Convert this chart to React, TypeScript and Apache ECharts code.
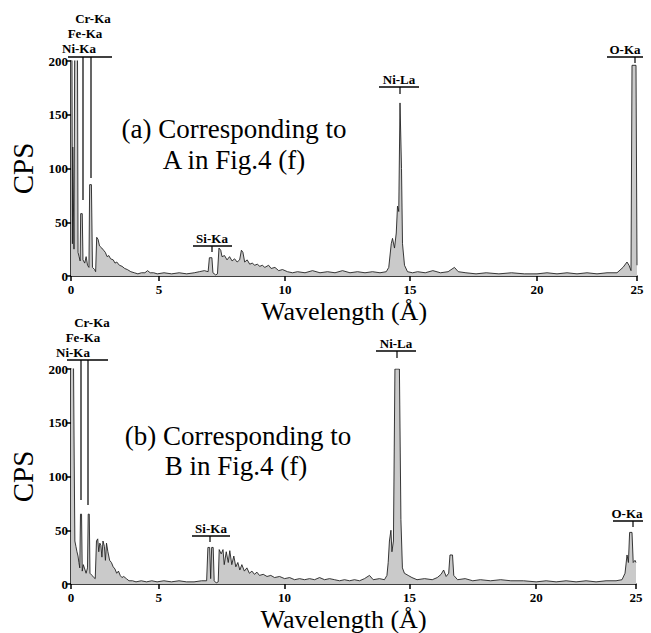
import React, { useEffect, useRef } from "react";
import * as echarts from "echarts";

// Axis: tick values (wavelength, Å) and their pixel offsets along the (non-uniform) printed axis
const X_TICK_VALUES = [0, 5, 10, 15, 20, 25];
const X_TICK_OFFSETS = [0, 88, 214, 339, 466, 566];
const Y_TICKS = [0, 50, 100, 150, 200];

const PEAK_LABELS_A = ["Cr-Ka", "Fe-Ka", "Ni-Ka", "Si-Ka", "Ni-La", "O-Ka"];
const PEAK_LABELS_B = ["Cr-Ka", "Fe-Ka", "Ni-Ka", "Si-Ka", "Ni-La", "O-Ka"];
const TITLE_A = ["(a) Corresponding to", "A in Fig.4 (f)"];
const TITLE_B = ["(b) Corresponding to", "B in Fig.4 (f)"];

// Spectrum (a): [wavelength, CPS]
const SPECTRUM_A: [number, number][] = [
  [0.0, 260], [0.05, 260], [0.08, 30], [0.1, 120], [0.14, 120], [0.17, 25],
  [0.22, 260], [0.36, 260], [0.4, 22], [0.46, 18], [0.52, 14], [0.55, 58],
  [0.64, 58], [0.68, 15], [0.78, 12], [0.86, 18], [0.94, 10], [1.02, 8],
  [1.06, 85], [1.16, 85], [1.22, 8], [1.34, 6], [1.4, 4], [1.46, 36],
  [1.54, 34], [1.62, 28], [1.75, 26], [1.85, 24], [1.95, 22], [2.05, 18],
  [2.15, 19], [2.25, 16], [2.4, 15], [2.5, 12], [2.6, 13], [2.75, 10],
  [2.9, 9], [3.05, 7], [3.2, 6], [3.4, 4], [3.6, 3], [3.8, 2], [4.0, 3],
  [4.2, 3], [4.35, 5], [4.5, 3], [4.7, 3], [4.9, 2], [5.2, 3], [5.5, 2],
  [5.8, 3], [6.1, 2], [6.4, 3], [6.6, 4], [6.8, 5], [6.95, 4], [7.0, 17],
  [7.1, 17], [7.14, 3], [7.25, 1], [7.32, 2], [7.38, 26], [7.45, 24],
  [7.5, 18], [7.6, 19], [7.7, 15], [7.8, 18], [7.9, 14], [8.0, 16], [8.1, 13],
  [8.2, 15], [8.27, 24], [8.33, 22], [8.4, 13], [8.5, 15], [8.6, 11],
  [8.7, 12], [8.8, 10], [8.9, 11], [9.0, 9], [9.1, 10], [9.2, 8], [9.35, 10],
  [9.45, 7], [9.6, 8], [9.75, 5], [9.9, 6], [10.1, 4], [10.3, 3], [10.5, 4],
  [10.8, 3], [11.1, 5], [11.4, 3], [11.7, 4], [12.0, 3], [12.3, 5], [12.6, 3],
  [12.9, 4], [13.2, 3], [13.5, 4], [13.8, 3], [14.05, 4], [14.15, 8],
  [14.25, 30], [14.3, 35], [14.38, 26], [14.45, 40], [14.5, 65], [14.55, 60],
  [14.6, 161], [14.66, 100], [14.7, 30], [14.78, 10], [14.9, 4], [15.1, 3],
  [15.3, 4], [15.6, 3], [15.9, 5], [16.2, 3], [16.5, 4], [16.75, 8],
  [16.9, 4], [17.2, 3], [17.6, 2], [18.0, 3], [18.5, 2], [19.0, 3], [19.5, 2],
  [20.0, 2], [20.5, 3], [21.0, 2], [21.5, 3], [22.0, 2], [22.5, 3], [23.0, 2],
  [23.5, 3], [24.0, 3], [24.3, 8], [24.5, 13], [24.6, 10], [24.7, 5],
  [24.75, 196], [24.95, 196], [25.0, 10],
];

// Spectrum (b): [wavelength, CPS]
const SPECTRUM_B: [number, number][] = [
  [0.0, 260], [0.12, 260], [0.18, 120], [0.22, 40], [0.28, 35], [0.34, 30],
  [0.4, 26], [0.45, 20], [0.5, 15], [0.54, 65], [0.6, 65], [0.64, 12],
  [0.7, 18], [0.78, 14], [0.86, 10], [0.94, 15], [0.98, 65], [1.04, 65],
  [1.08, 10], [1.2, 8], [1.3, 6], [1.38, 5], [1.45, 40], [1.52, 42],
  [1.58, 30], [1.64, 38], [1.7, 36], [1.76, 25], [1.82, 40], [1.9, 35],
  [1.96, 22], [2.02, 38], [2.1, 30], [2.2, 22], [2.3, 20], [2.4, 16],
  [2.5, 14], [2.6, 10], [2.7, 12], [2.8, 8], [2.9, 6], [3.0, 7], [3.15, 5],
  [3.3, 3], [3.5, 3], [3.7, 2], [4.0, 3], [4.3, 2], [4.6, 3], [4.9, 2],
  [5.2, 3], [5.5, 2], [5.8, 3], [6.1, 2], [6.4, 2], [6.7, 3], [6.9, 3],
  [6.95, 34], [7.02, 34], [7.06, 5], [7.1, 34], [7.16, 34], [7.2, 3],
  [7.28, 1], [7.36, 2], [7.4, 32], [7.48, 28], [7.55, 32], [7.6, 18],
  [7.68, 30], [7.76, 20], [7.82, 31], [7.9, 18], [7.98, 26], [8.06, 16],
  [8.14, 20], [8.22, 13], [8.3, 18], [8.4, 12], [8.5, 15], [8.6, 10],
  [8.7, 12], [8.8, 9], [8.9, 11], [9.0, 8], [9.15, 9], [9.3, 7], [9.45, 8],
  [9.6, 6], [9.8, 7], [10.0, 5], [10.2, 6], [10.4, 4], [10.6, 5], [10.8, 4],
  [11.0, 5], [11.2, 4], [11.4, 6], [11.6, 4], [11.8, 5], [12.0, 4], [12.2, 3],
  [12.4, 4], [12.6, 3], [12.8, 4], [13.0, 3], [13.2, 5], [13.4, 8],
  [13.55, 4], [13.8, 5], [14.0, 4], [14.1, 8], [14.15, 20], [14.2, 40],
  [14.26, 50], [14.3, 30], [14.36, 40], [14.42, 200], [14.6, 200],
  [14.66, 60], [14.72, 15], [14.8, 10], [14.95, 8], [15.1, 6], [15.3, 4],
  [15.6, 5], [15.9, 4], [16.1, 6], [16.25, 9], [16.35, 13], [16.45, 7],
  [16.55, 10], [16.6, 27], [16.7, 27], [16.75, 8], [16.9, 4], [17.2, 5],
  [17.5, 3], [17.8, 4], [18.2, 3], [18.6, 4], [19.0, 3], [19.5, 3], [20.0, 2],
  [20.5, 3], [21.0, 2], [21.5, 3], [22.0, 2], [22.5, 3], [23.0, 2], [23.5, 3],
  [24.0, 3], [24.3, 4], [24.45, 10], [24.55, 27], [24.62, 20], [24.68, 48],
  [24.8, 48], [24.86, 20], [24.95, 22], [25.0, 20],
];

// map wavelength onto the printed (piecewise) axis
function warp(l: number): number {
  for (let i = 0; i < X_TICK_VALUES.length - 1; i++) {
    const a = X_TICK_VALUES[i], b = X_TICK_VALUES[i + 1];
    if (l <= b || i === X_TICK_VALUES.length - 2) {
      const t = (l - a) / (b - a);
      return X_TICK_OFFSETS[i] + t * (X_TICK_OFFSETS[i + 1] - X_TICK_OFFSETS[i]);
    }
  }
  return l;
}

const SERIF = "Liberation Serif";

function makeXAxis(gridIndex: number) {
  return {
    type: "value",
    gridIndex,
    min: 0,
    max: X_TICK_OFFSETS[X_TICK_OFFSETS.length - 1],
    name: "Wavelength (Å)",
    nameLocation: "middle",
    nameGap: 22,
    nameTextStyle: { fontFamily: SERIF, fontSize: 26, color: "#000", padding: [0, 20, 0, 0] },
    axisLine: { show: true, onZero: false, lineStyle: { color: "#000", width: 1.5 } },
    axisTick: { show: true, length: 5, customValues: X_TICK_OFFSETS, lineStyle: { color: "#000", width: 1.5 } },
    axisLabel: {
      show: true,
      customValues: X_TICK_OFFSETS,
      margin: 7,
      fontFamily: SERIF,
      fontWeight: "bold",
      fontSize: 13,
      color: "#000",
      formatter: (v: number) => {
        const i = X_TICK_OFFSETS.indexOf(Math.round(v));
        return i >= 0 ? String(X_TICK_VALUES[i]) : "";
      },
    },
    splitLine: { show: false },
  };
}

function makeYAxis(gridIndex: number) {
  return {
    type: "value",
    gridIndex,
    min: Y_TICKS[0],
    max: Y_TICKS[Y_TICKS.length - 1],
    interval: 50,
    name: "CPS",
    nameLocation: "middle",
    nameGap: 34,
    nameTextStyle: { fontFamily: SERIF, fontSize: 29, color: "#000" },
    axisLine: { show: true, lineStyle: { color: "#000", width: 1.5 } },
    axisTick: { show: true, length: 5, lineStyle: { color: "#000", width: 1.5 } },
    axisLabel: { margin: 3, fontFamily: SERIF, fontWeight: "bold", fontSize: 13, color: "#000" },
    splitLine: { show: false },
  };
}

function makeSeries(data: [number, number][], idx: number) {
  return {
    type: "line",
    xAxisIndex: idx,
    yAxisIndex: idx,
    data: data.map(([l, c]) => [warp(l), c]),
    showSymbol: false,
    symbol: "none",
    clip: true,
    lineStyle: { color: "#222", width: 0.9 },
    areaStyle: { color: "#cacaca", opacity: 1 },
  };
}

function txt(text: string, x: number, y: number, size: number, bold: boolean) {
  return {
    type: "text",
    x,
    y,
    style: {
      text,
      fontFamily: SERIF,
      fontSize: size,
      fontWeight: bold ? "bold" : "normal",
      lineHeight: bold ? 11 : size + 2,
      fill: "#000",
      align: "center",
      verticalAlign: "middle",
    },
  };
}

function ln(x1: number, y1: number, x2: number, y2: number, w = 1.5) {
  return { type: "line", shape: { x1, y1, x2, y2 }, style: { stroke: "#000", lineWidth: w } };
}

export default function App() {
  const ref = useRef<HTMLDivElement>(null);
  useEffect(() => {
    if (!ref.current) return;
    const chart = echarts.init(ref.current, null, { renderer: "svg" });
    const [crA, feA, niA, siA, nlA, oA] = PEAK_LABELS_A;
    const [crB, feB, niB, siB, nlB, oB] = PEAK_LABELS_B;
    chart.setOption({
      animation: false,
      backgroundColor: "#fff",
      grid: [
        { left: 71, right: 14, top: 61, height: 215 },
        { left: 70, right: 15, top: 369, height: 215 },
      ],
      xAxis: [makeXAxis(0), makeXAxis(1)],
      yAxis: [makeYAxis(0), makeYAxis(1)],
      series: [makeSeries(SPECTRUM_A, 0), makeSeries(SPECTRUM_B, 1)],
      graphic: [
        // panel (a) annotations
        txt(TITLE_A[0], 234, 129, 27, false),
        txt(TITLE_A[1], 234, 160, 27, false),
        txt(crA, 93, 18, 13, true),
        txt(feA, 85, 33, 13, true),
        txt(niA, 79, 48, 13, true),
        ln(68, 57, 112, 57),
        ln(83, 57, 83, 200, 1.2),
        ln(91, 57, 91, 178, 1.2),
        txt(siA, 212, 238, 13, true),
        ln(193, 246, 232, 246),
        ln(212, 246, 212, 252, 1.2),
        txt(nlA, 399, 79, 13, true),
        ln(379, 87, 419, 87),
        ln(400, 87, 400, 94, 1.2),
        txt(oA, 625, 49, 13, true),
        ln(607, 57, 643, 57),
        ln(635, 57, 635, 63, 1.2),
        // panel (b) annotations
        txt(TITLE_B[0], 238, 436, 27, false),
        txt(TITLE_B[1], 236, 466, 27, false),
        txt(crB, 92, 322, 13, true),
        txt(feB, 83, 337, 13, true),
        txt(niB, 73, 352, 13, true),
        ln(67, 360, 108, 360),
        ln(81, 360, 81, 500, 1.2),
        ln(88, 360, 88, 505, 1.2),
        txt(siB, 211, 528, 13, true),
        ln(192, 536, 230, 536),
        ln(210, 536, 210, 542, 1.2),
        txt(nlB, 396, 343, 13, true),
        ln(376, 351, 416, 351),
        ln(397, 351, 397, 358, 1.2),
        txt(oB, 627, 513, 13, true),
        ln(613, 521, 643, 521),
        ln(633, 521, 633, 527, 1.2),
      ],
    });
    return () => chart.dispose();
  }, []);
  return (
    <div
      ref={ref}
      style={{ position: "absolute", left: 0, top: 0, width: 651, height: 633, background: "#fff" }}
    />
  );
}
